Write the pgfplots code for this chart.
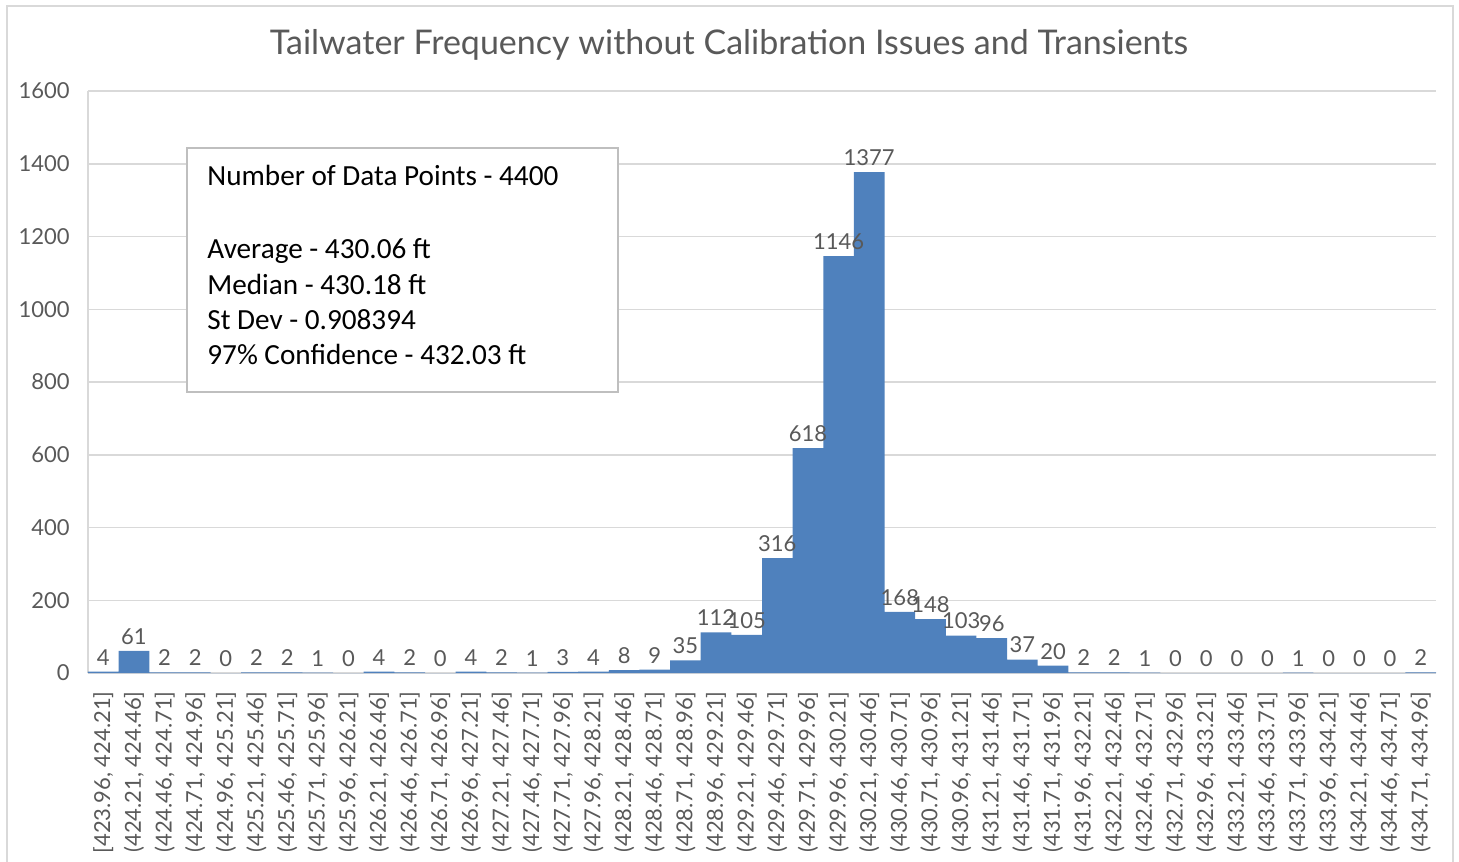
\documentclass[border=0pt]{standalone}
\usepackage{fontspec}
\setmainfont{Carlito}
\newfontfamily\apt{Lato}
\usepackage{pgfplots}
\pgfplotsset{compat=1.18}
\definecolor{barblue}{RGB}{79,129,189}
\definecolor{txtgray}{RGB}{89,89,89}
\definecolor{gridgray}{RGB}{217,217,217}
\definecolor{framegray}{RGB}{217,217,217}
\definecolor{boxgray}{RGB}{191,191,191}
\begin{document}
\begin{tikzpicture}[x=1pt,y=1pt]
\useasboundingbox (0,0) rectangle (729.5,-430.5);
\draw[framegray, line width=0.75pt] (3.5,-440) -- (3.5,-3) -- (726.5,-3) -- (726.5,-440);
\begin{axis}[
  at={(44pt,-336.5pt)}, anchor=south west,
  scale only axis, width=674pt, height=291pt,
  xmin=-0.5, xmax=43.5, ymin=0, ymax=1600,
  ybar, bar width=1, bar shift=0pt,
  axis x line=bottom, axis y line=left,
  axis line style={gridgray, line width=0.75pt, -},
  ymajorgrids, grid style={gridgray, line width=0.75pt},
  ytick={0,200,...,1600},
  xtick={0,...,43},
  xticklabels={{[423.96, 424.21]},{(424.21, 424.46]},{(424.46, 424.71]},{(424.71, 424.96]},{(424.96, 425.21]},{(425.21, 425.46]},{(425.46, 425.71]},{(425.71, 425.96]},{(425.96, 426.21]},{(426.21, 426.46]},{(426.46, 426.71]},{(426.71, 426.96]},{(426.96, 427.21]},{(427.21, 427.46]},{(427.46, 427.71]},{(427.71, 427.96]},{(427.96, 428.21]},{(428.21, 428.46]},{(428.46, 428.71]},{(428.71, 428.96]},{(428.96, 429.21]},{(429.21, 429.46]},{(429.46, 429.71]},{(429.71, 429.96]},{(429.96, 430.21]},{(430.21, 430.46]},{(430.46, 430.71]},{(430.71, 430.96]},{(430.96, 431.21]},{(431.21, 431.46]},{(431.46, 431.71]},{(431.71, 431.96]},{(431.96, 432.21]},{(432.21, 432.46]},{(432.46, 432.71]},{(432.71, 432.96]},{(432.96, 433.21]},{(433.21, 433.46]},{(433.46, 433.71]},{(433.71, 433.96]},{(433.96, 434.21]},{(434.21, 434.46]},{(434.46, 434.71]},{(434.71, 434.96]}},
  major tick length=0pt,
  tick label style={font=\apt\fontsize{11}{13}\selectfont, text=txtgray},
  yticklabel style={anchor=east, inner sep=0pt},
  yticklabel shift=9pt,
  xticklabel style={rotate=90, anchor=east, inner sep=0pt},
  xticklabel shift=9pt,
  /pgf/number format/assume math mode=true,
  /pgf/number format/1000 sep={},
  every node near coord/.append style={font=\apt\fontsize{11}{13}\selectfont, text=txtgray, inner sep=1pt, anchor=south, yshift=2pt},
  clip=false,
]
\pgfplotstableread{
x y
0 4
1 61
2 2
3 2
4 0
5 2
6 2
7 1
8 0
9 4
10 2
11 0
12 4
13 2
14 1
15 3
16 4
17 8
18 9
19 35
20 112
21 105
22 316
23 618
24 1146
25 1377
26 168
27 148
28 103
29 96
30 37
31 20
32 2
33 2
34 1
35 0
36 0
37 0
38 0
39 1
40 0
41 0
42 0
43 2
}\datatable
\addplot[fill=barblue, draw=none] table[x=x,y=y] {\datatable};
\addplot[fill=none, draw=none, nodes near coords] table[x=x,y=y] {\datatable};
\end{axis}
\node[anchor=base, text=txtgray, font=\apt\fontsize{17}{20}\selectfont, inner sep=0pt] at (364.5,-27.5) {Tailwater Frequency without Calibration Issues and Transients};
\draw[boxgray, line width=0.6pt, fill=white] (93.5,-74) rectangle (309,-196);
\begin{scope}[every node/.style={anchor=base west, inner sep=0pt, font=\fontsize{14.6}{17.8}\selectfont}]
\node at (103.5,-92.85) {Number of Data Points - 4400};
\node at (103.5,-129.15) {Average - 430.06 ft};
\node at (103.5,-147) {Median - 430.18 ft};
\node at (103.5,-164.5) {St Dev - 0.908394};
\node at (103.5,-182) {97\% Confidence - 432.03 ft};
\end{scope}
\end{tikzpicture}
\end{document}
